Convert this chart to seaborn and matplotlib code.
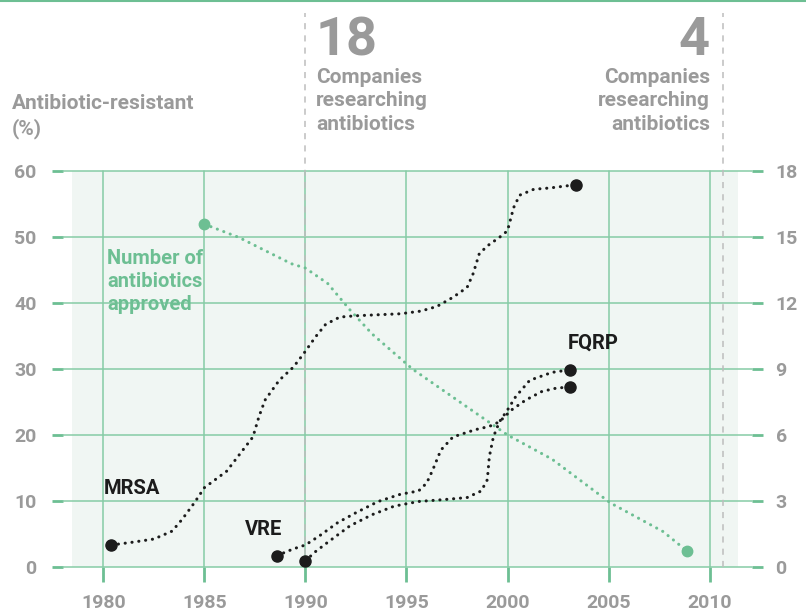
import matplotlib
matplotlib.use("Agg")
import matplotlib.pyplot as plt
from matplotlib.lines import Line2D
import seaborn as sns
import pandas as pd

# resistance curves (% resistant)
mrsa_years = [1980.4, 1981.4, 1982.5, 1983.4, 1983.9, 1984.5, 1985.0, 1986.1, 1986.9, 1987.4,
              1987.7, 1988.0, 1988.7, 1989.4, 1989.9, 1990.5, 1991.0, 1991.7, 1992.5, 1994.7,
              1995.7, 1996.5, 1997.3, 1998.0, 1998.3, 1998.6, 1999.0, 1999.6, 2000.0, 2000.3,
              2000.6, 2001.3, 2002.1, 2003.4]
mrsa_pct = [3.3, 3.7, 4.2, 5.4, 7.2, 9.7, 12.0, 14.5, 17.7, 19.7,
            22.8, 25.3, 28.3, 30.3, 32.3, 34.9, 36.8, 37.9, 38.1, 38.4,
            38.8, 39.5, 40.9, 42.4, 44.5, 47.5, 48.7, 50.0, 51.0, 54.5,
            56.4, 57.3, 57.5, 58.0]

vre_years = [1988.6, 1989.4, 1990.0, 1990.7, 1991.6, 1992.5, 1993.6, 1994.7, 1995.6, 1996.0,
             1996.3, 1996.7, 1997.3, 1998.4, 1999.1, 1999.6, 2000.2, 2000.9, 2001.7, 2002.4, 2003.1]
vre_pct = [1.7, 2.7, 3.3, 4.7, 6.7, 8.2, 9.9, 11.0, 11.5, 12.7,
           14.7, 17.7, 19.7, 20.8, 21.3, 22.0, 23.8, 25.3, 26.6, 27.1, 27.3]

fqrp_years = [1990.0, 1990.5, 1991.1, 1992.2, 1993.3, 1994.4, 1995.6, 1996.9, 1998.0, 1998.7,
              1999.0, 1999.1, 1999.3, 1999.6, 2000.0, 2000.4, 2001.1, 2002.2, 2003.1]
fqrp_pct = [0.9, 2.3, 3.7, 6.2, 7.9, 9.2, 9.9, 10.2, 10.5, 11.5,
            13.2, 16.7, 19.7, 22.0, 23.8, 25.8, 28.3, 29.5, 29.9]

# number of antibiotics approved (right axis)
approved_years = [1985.0, 1986.7, 1989.3, 1990.0, 1991.1, 1992.2, 1993.3, 1995.3, 1997.8,
                  2000.0, 2002.2, 2005.1, 2007.7, 2008.9]
approved_n = [15.6, 15.0, 13.8, 13.6, 12.9, 11.7, 10.6, 9.0, 7.4,
              6.0, 4.9, 2.9, 1.6, 0.7]

x_ticks = [1980, 1985, 1990, 1995, 2000, 2005, 2010]
left_ticks = [0, 10, 20, 30, 40, 50, 60]
right_ticks = [0, 3, 6, 9, 12, 15, 18]

GREEN = "#86cba6"
GREEN_DARK = "#6dbf93"
GRAY = "#9a9a9a"
BLACK = "#1c1c1c"
BG = "#f0f6f3"

sns.set_style("white")
plt.rcParams['font.family'] = ['Roboto', 'DejaVu Sans']

W, H = 806, 615
fig = plt.figure(figsize=(W / 100, H / 100), dpi=100)
ax = fig.add_axes([63 / W, 1 - 566.7 / H, (752 - 63) / W, (566.7 - 171.5) / H])
ax.set_xlim(1978.0, 2012.1)
ax.set_ylim(0, 60)
ax2 = ax.twinx()
ax2.set_ylim(0, 18)

for a in (ax, ax2):
    for s in a.spines.values():
        s.set_visible(False)
    a.set_facecolor("none")

# shaded panel
ax.fill_between([1978.45, 2011.4], 0, 60, color=BG, zorder=0, linewidth=0)

# grid
for y in left_ticks:
    ax.axhline(y, color=GREEN, lw=1.1, zorder=1, clip_on=False)
for x in x_ticks:
    ax.axvline(x, color=GREEN, lw=1.1, zorder=1, clip_on=False)

# dashed markers for company counts
for x in [1990.0, 2010.65]:
    ax.axvline(x, ymin=0, ymax=1.4, color="#bdbdbd", lw=1.1, ls=(0, (4, 4)),
               zorder=1.5, clip_on=False)

dot_ls = (0, (0.05, 2.2))
series = [(mrsa_years, mrsa_pct), (vre_years, vre_pct), (fqrp_years, fqrp_pct)]
for xs, ys in series:
    df = pd.DataFrame({"year": xs, "pct": ys})
    sns.lineplot(data=df, x="year", y="pct", ax=ax, color=BLACK, lw=2.2,
                 linestyle=dot_ls, dash_capstyle="round", zorder=3)
    ax.plot([xs[0], xs[-1]], [ys[0], ys[-1]], "o", color=BLACK, ms=8,
            zorder=4, clip_on=False)

df_a = pd.DataFrame({"year": approved_years, "n": approved_n})
sns.lineplot(data=df_a, x="year", y="n", ax=ax2, color=GREEN_DARK, lw=2.2,
             linestyle=dot_ls, dash_capstyle="round", zorder=2)
ax2.plot([approved_years[0], approved_years[-1]], [approved_n[0], approved_n[-1]], "o",
         color=GREEN_DARK, ms=7.5, zorder=3, clip_on=False)

ax.set_xlabel("")
ax.set_ylabel("")
ax2.set_ylabel("")

tick_font = dict(fontsize=14, fontweight="bold", color=GRAY)
ax.set_xticks(x_ticks)
ax.set_xticklabels([str(x) for x in x_ticks], **tick_font)
ax.set_yticks(left_ticks)
ax.set_yticklabels([str(v) for v in left_ticks], **tick_font)
ax2.set_yticks(right_ticks)
ax2.set_yticklabels([str(v) for v in right_ticks], **tick_font)

ax.tick_params(axis="x", direction="out", length=11, width=2, color=GREEN_DARK, pad=9,
               bottom=True)
ax.tick_params(axis="y", direction="out", length=8, width=2, color=GREEN_DARK, pad=11,
               left=True)
ax2.tick_params(axis="y", direction="out", length=8, width=2, color=GREEN_DARK, pad=9,
                right=True)

# labels on curves
lab = dict(fontsize=14.5, fontweight="bold", color=BLACK)
ax.text(1980.0, 11.9, "MRSA", ha="left", va="center", **lab)
ax.text(1987.0, 5.7, "VRE", ha="left", va="center", **lab)
ax.text(2003.0, 34.0, "FQRP", ha="left", va="center", **lab)
ax.text(1980.2, 43.3, "Number of\nantibiotics\napproved", ha="left", va="center",
        fontsize=14.5, fontweight="bold", color=GREEN_DARK, linespacing=1.25)

# header texts
head = dict(fontsize=15, fontweight="bold", color=GRAY, linespacing=1.3)
fig.text(12 / W, 1 - 94 / H, "Antibiotic-resistant\n(%)", ha="left", va="top", **head)
fig.text(316 / W, 1 - 15 / H, "18", ha="left", va="top", fontsize=39, fontweight="bold",
         color=GRAY)
fig.text(316 / W, 1 - 68 / H, "Companies\nresearching\nantibiotics", ha="left", va="top",
         **head)
fig.text(710 / W, 1 - 15 / H, "4", ha="right", va="top", fontsize=39, fontweight="bold",
         color=GRAY)
fig.text(710 / W, 1 - 68 / H, "Companies\nresearching\nantibiotics", ha="right", va="top",
         multialignment="right", **head)

# green rule at the top
fig.add_artist(Line2D([0, 1], [0.998, 0.998], color=GREEN_DARK, lw=1.5,
                      transform=fig.transFigure))

fig.savefig("out.png", dpi=100)
